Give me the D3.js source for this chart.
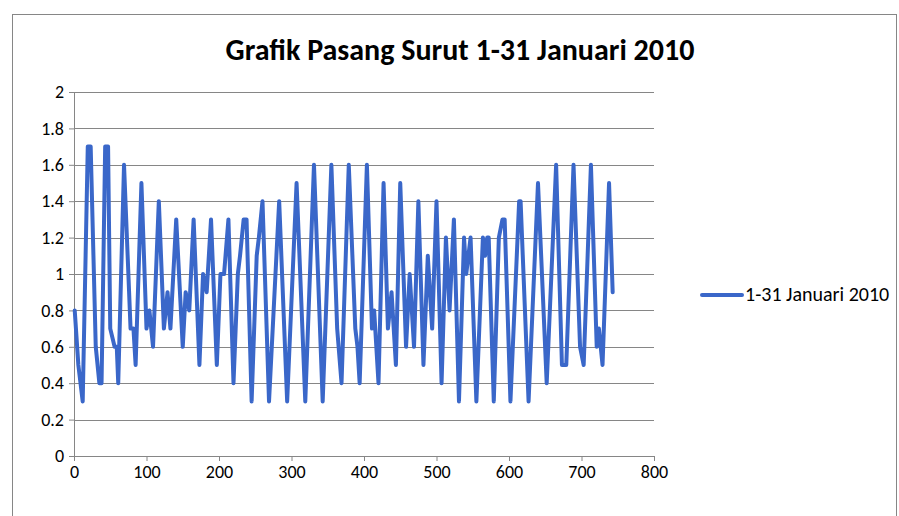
<!DOCTYPE html>
<html>
<head>
<meta charset="utf-8">
<script src="https://cdn.jsdelivr.net/npm/d3@7"></script>
<style>
  body { margin: 0; background: #fff; }
  svg { display: block; }
</style>
</head>
<body>
<div id="chart"></div>
<script>
// hour of month and water level (m) at turning points
const hours = [1, 6, 12, 19, 23, 30, 35, 38, 43, 47, 50, 56, 59, 61, 69, 78, 82, 85, 93, 100,
  104, 109, 117, 124, 129, 133, 141, 150, 154, 159, 165, 173, 178, 183, 189, 197, 202, 207, 213, 220,
  226, 229, 234, 238, 245, 252, 255, 260, 269, 283, 294, 307, 319, 331, 343, 355, 363, 369, 379, 388,
  391, 394, 404, 411, 414, 420, 427, 433, 438, 444, 450, 458, 463, 469, 475, 482, 488, 494, 500, 507,
  513, 518, 524, 531, 538, 541, 547, 555, 564, 567, 570, 572, 579, 586, 591, 594, 602, 614, 616, 627,
  640, 652, 665, 673, 679, 689, 698, 703, 713, 721, 724, 729, 738, 743];
const levels = [0.8, 0.5, 0.3, 1.7, 1.7, 0.6, 0.4, 0.4, 1.7, 1.7, 0.7, 0.6, 0.6, 0.4, 1.6, 0.7, 0.7, 0.5, 1.5, 0.7,
  0.8, 0.6, 1.4, 0.7, 0.9, 0.7, 1.3, 0.6, 0.9, 0.8, 1.3, 0.5, 1.0, 0.9, 1.3, 0.5, 1.0, 1.0, 1.3, 0.4,
  1.0, 1.1, 1.3, 1.3, 0.3, 1.1, 1.2, 1.4, 0.3, 1.4, 0.3, 1.5, 0.3, 1.6, 0.3, 1.6, 0.7, 0.4, 1.6, 0.7,
  0.6, 0.4, 1.6, 0.7, 0.8, 0.4, 1.5, 0.7, 0.9, 0.5, 1.5, 0.6, 1.0, 0.6, 1.4, 0.5, 1.1, 0.7, 1.4, 0.4,
  1.2, 0.8, 1.3, 0.3, 1.2, 1.0, 1.2, 0.3, 1.2, 1.1, 1.2, 1.2, 0.3, 1.2, 1.3, 1.3, 0.3, 1.4, 1.4, 0.3,
  1.5, 0.4, 1.6, 0.5, 0.5, 1.6, 0.6, 0.5, 1.6, 0.6, 0.7, 0.5, 1.5, 0.9];
const xTicks = [0, 100, 200, 300, 400, 500, 600, 700, 800];
const yTicks = [0, 0.2, 0.4, 0.6, 0.8, 1, 1.2, 1.4, 1.6, 1.8, 2];
const title = "Grafik Pasang Surut 1-31 Januari 2010";
const seriesName = "1-31 Januari 2010";

const svgWidth = 899, svgHeight = 516;
const margin = { top: 92, left: 74 };
const width = 580, height = 364;

const svg = d3.select("#chart").append("svg")
  .attr("width", svgWidth)
  .attr("height", svgHeight);

// chart frame
svg.append("rect")
  .attr("x", 12.5).attr("y", 14.5)
  .attr("width", 884).attr("height", 520)
  .attr("fill", "none").attr("stroke", "#868686");

const chartGroup = svg.append("g")
  .attr("transform", `translate(${margin.left}, ${margin.top})`);

const x = d3.scaleLinear().domain([0, 800]).range([0, width]);
const y = d3.scaleLinear().domain([0, 2]).range([height, 0]);

// gridlines
chartGroup.append("g").selectAll("line")
  .data(yTicks.slice(1))
  .enter().append("line")
  .attr("x1", 0).attr("x2", width)
  .attr("y1", d => Math.round(y(d)) + 0.5)
  .attr("y2", d => Math.round(y(d)) + 0.5)
  .attr("stroke", "#868686");

const font = "Calibri, Carlito, Lato, 'Open Sans', sans-serif";

const leftAxis = d3.axisLeft(y).tickValues(yTicks).tickSize(5).tickPadding(5)
  .tickFormat(d => d3.format("~g")(d));
const bottomAxis = d3.axisBottom(x).tickValues(xTicks).tickSize(5).tickPadding(4);

const yAxis = chartGroup.append("g").call(leftAxis);
const xAxis = chartGroup.append("g")
  .attr("transform", `translate(0, ${height})`)
  .call(bottomAxis);

[xAxis, yAxis].forEach(a => {
  a.selectAll("path, line").attr("stroke", "#868686");
  a.selectAll("text")
    .attr("fill", "#000")
    .style("font-family", font)
    .style("font-size", "18px");
});

// series line
const data = hours.map((h, i) => ({ h: h, v: levels[i] }));
chartGroup.append("path")
  .datum(data)
  .attr("fill", "none")
  .attr("stroke", "#3A67C9")
  .attr("stroke-width", 4)
  .attr("stroke-linejoin", "round")
  .attr("stroke-linecap", "round")
  .attr("d", d3.line().x(d => x(d.h)).y(d => y(d.v)));

// title
svg.append("text")
  .attr("x", 460).attr("y", 60)
  .attr("text-anchor", "middle")
  .style("font-family", font)
  .style("font-weight", "bold")
  .style("font-size", "30px")
  .text(title);

// legend
svg.append("line")
  .attr("x1", 702).attr("x2", 742)
  .attr("y1", 295).attr("y2", 295)
  .attr("stroke", "#3A67C9").attr("stroke-width", 4)
  .attr("stroke-linecap", "round");
svg.append("text")
  .attr("x", 745).attr("y", 301)
  .style("font-family", font)
  .style("font-size", "20px")
  .text(seriesName);
</script>
</body>
</html>
